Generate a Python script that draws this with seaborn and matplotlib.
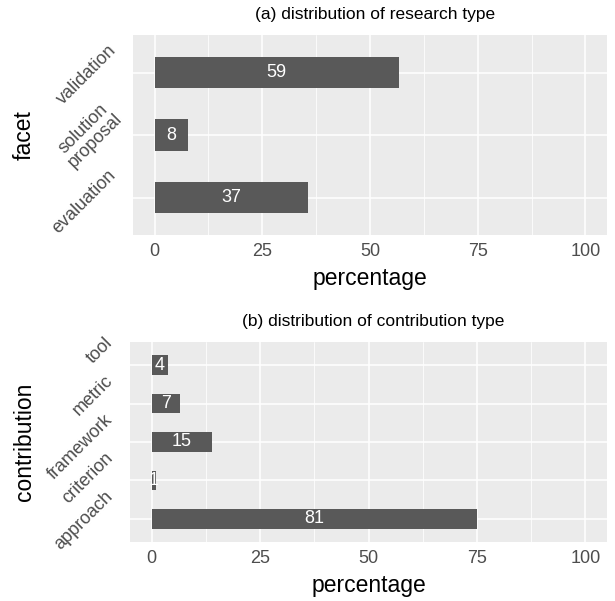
import numpy as np
import pandas as pd
import seaborn as sns
import matplotlib.pyplot as plt
import matplotlib.transforms as mtransforms
from matplotlib.ticker import MultipleLocator


# (a) research type, bottom to top
facet_labels = ["evaluation", "solution\nproposal", "validation"]
facet_counts = [37, 8, 59]
facet_pct = [35.6, 7.7, 56.7]

# (b) contribution type, bottom to top
contrib_labels = ["approach", "criterion", "framework", "metric", "tool"]
contrib_counts = [81, 1, 15, 7, 4]
contrib_pct = [75.0, 0.9, 13.9, 6.5, 3.7]

xticks = [0, 25, 50, 75, 100]

sns.set_style("darkgrid")
plt.rcParams['font.family'] = ['Liberation Sans', 'DejaVu Sans']

fig = plt.figure(figsize=(6.15, 6.01), dpi=100)


def panel(rect, labels, counts, pct, title, ylabel, ylab_x):
    ax = fig.add_axes(rect)
    df = pd.DataFrame({"label": labels, "pct": pct})
    sns.barplot(data=df, x="pct", y="label", order=labels, orient="h",
                width=0.5, color="#595959", saturation=1, linewidth=0, ax=ax)
    n = len(labels)
    ax.set_ylim(-0.6, n - 1 + 0.6)
    ax.set_xlim(-5, 105)
    ax.set_facecolor("#EBEBEB")
    ax.set_axisbelow(True)
    ax.set_xticks(xticks)
    ax.xaxis.set_minor_locator(MultipleLocator(12.5))
    ax.grid(which="major", color="white", linewidth=1.1)
    ax.grid(which="minor", axis="x", color="white", linewidth=0.55)
    ax.grid(which="minor", axis="y", visible=False)
    for s in ax.spines.values():
        s.set_visible(False)
    ax.tick_params(axis="both", which="major", length=4, width=1.1,
                   color="#333333", labelcolor="#4D4D4D", labelsize=13, pad=2)
    ax.tick_params(which="minor", length=0)

    # rotated category labels, shifted up-left of the tick like ggplot
    ax.set_yticks(range(n))
    ax.set_yticklabels([])
    base = mtransforms.blended_transform_factory(ax.transAxes, ax.transData)
    shift = mtransforms.ScaledTranslation(-10 / 72, 18 / 72, fig.dpi_scale_trans)
    for i, lab in enumerate(labels):
        ax.text(-0.012, i, lab, transform=base + shift, rotation=45,
                rotation_mode="anchor", ha="right", va="center",
                multialignment="center", fontsize=13, color="#4D4D4D",
                linespacing=1.0)

    for i, (c, p) in enumerate(zip(counts, pct)):
        ax.text(p / 2, i, str(c), color="white", ha="center", va="center",
                fontsize=13)
    ax.set_xlabel("percentage", fontsize=16.5, color="black", labelpad=5)
    ax.set_ylabel(ylabel, fontsize=16.5, color="black")
    ax.yaxis.set_label_coords(ylab_x, 0.5)
    ax.text(0.51, 1.105, title, transform=ax.transAxes, fontsize=12.5,
            ha="center", va="center", color="black")
    return ax


panel([133 / 615, (601 - 235) / 601, 474 / 615, 200 / 601],
      facet_labels, facet_counts, facet_pct,
      "(a) distribution of research type", "facet", (36 - 133) / 474)
panel([130 / 615, (601 - 542) / 601, 477 / 615, 200 / 601],
      contrib_labels, contrib_counts, contrib_pct,
      "(b) distribution of contribution type", "contribution", (36 - 130) / 477)

plt.savefig("out.png", dpi=100)
